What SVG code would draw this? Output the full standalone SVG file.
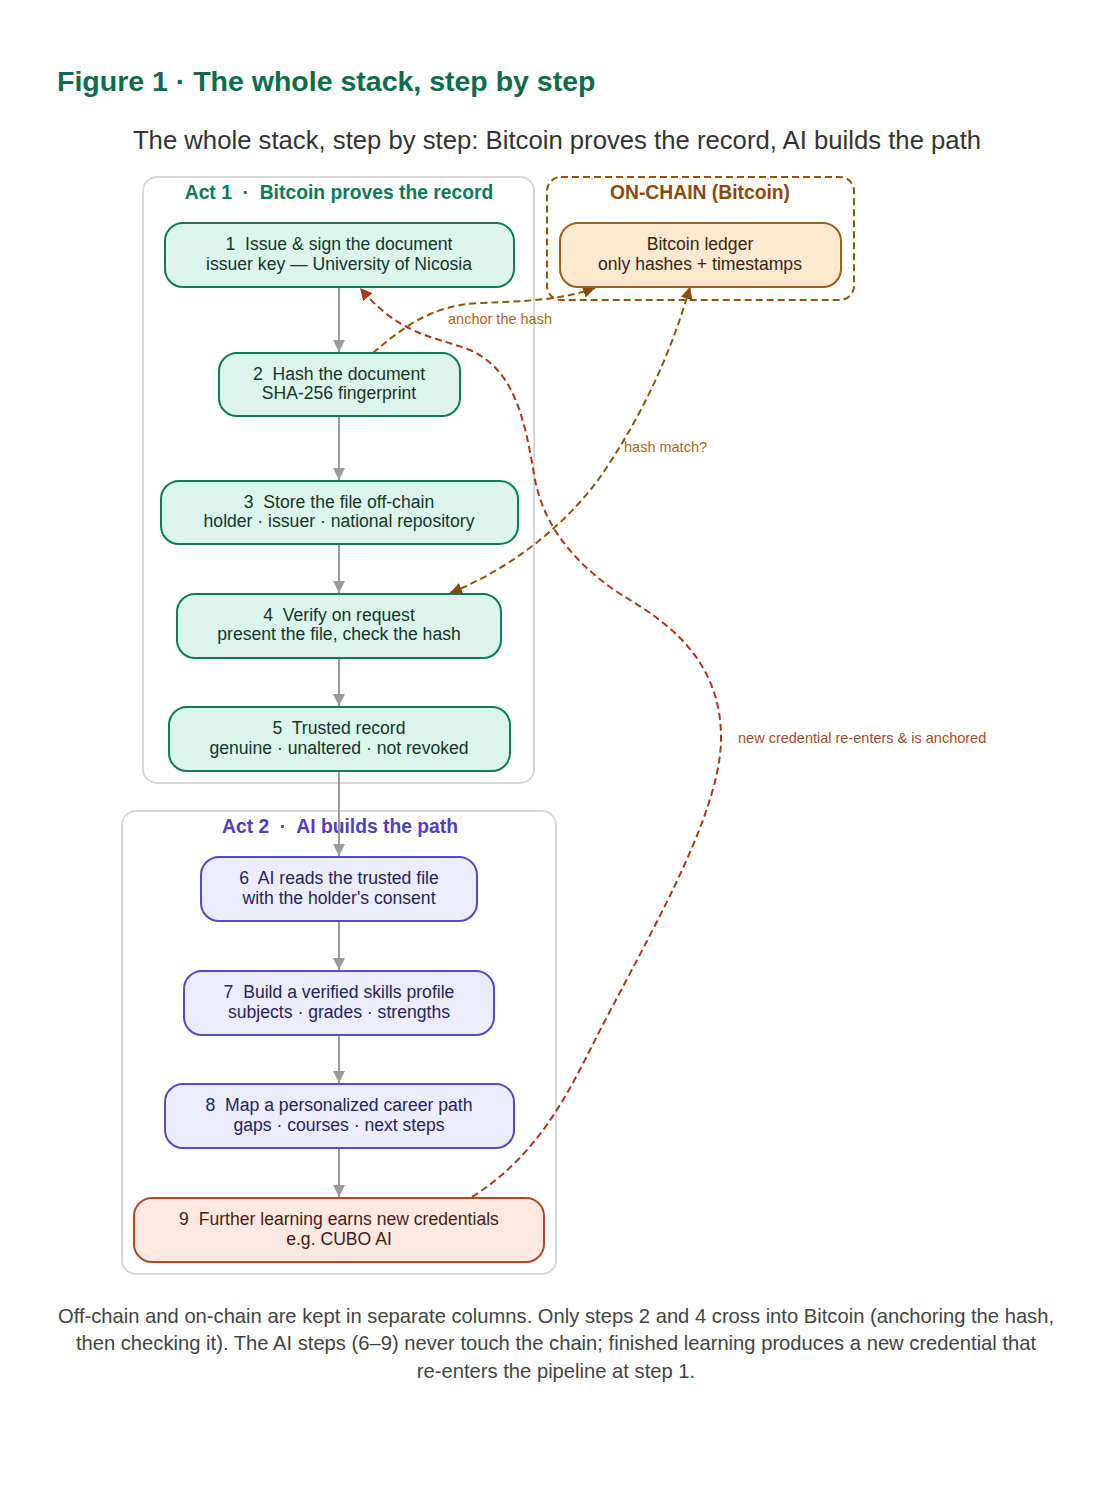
<svg xmlns="http://www.w3.org/2000/svg" width="1100" height="1497" viewBox="0 0 1100 1497">
<defs>
<style>
text{font-family:"Liberation Sans",Arial,sans-serif}
.title{font-size:28.5px;font-weight:bold;fill:#0d6b4e}
.sub{font-size:25.7px;fill:#333;text-anchor:middle}
.cap{font-size:20.2px;fill:#444;text-anchor:middle}
.cluster{fill:#fff;stroke:#d8d8d8;stroke-width:2}
.onchain{fill:none;stroke:#94540f;stroke-width:2;stroke-dasharray:7 4}
.clabel{font-size:19.3px;font-weight:bold;text-anchor:middle}
.g rect{fill:#dcf5ec;stroke:#0f7a58;stroke-width:2}
.g text{fill:#13352a;font-size:17.6px;text-anchor:middle}
.p rect{fill:#ececfd;stroke:#5549c8;stroke-width:2}
.p text{fill:#25245a;font-size:17.6px;text-anchor:middle}
.r rect{fill:#fde9e1;stroke:#b04a2a;stroke-width:2}
.r text{fill:#4a1c10;font-size:17.6px;text-anchor:middle}
.o rect{fill:#fde8d0;stroke:#a0601c;stroke-width:2}
.o text{fill:#3a2410;font-size:17.6px;text-anchor:middle}
.flow{stroke:#9a9a9a;stroke-width:2;fill:none;marker-end:url(#ag)}
.bro{stroke:#94540f;stroke-width:2;fill:none;stroke-dasharray:7 4}
.red{stroke:#a8391a;stroke-width:2;fill:none;stroke-dasharray:7 4}
.elab{font-size:14.5px}
</style>
<marker id="ag" viewBox="0 0 10 10" refX="10" refY="5" markerWidth="6" markerHeight="7" markerUnits="strokeWidth" orient="auto"><path d="M0,0 L10,5 L0,10 z" fill="#9a9a9a"/></marker>
<marker id="ab" viewBox="0 0 10 10" refX="10" refY="5" markerWidth="6" markerHeight="6" markerUnits="strokeWidth" orient="auto-start-reverse"><path d="M0,0 L10,5 L0,10 z" fill="#8a4a0a"/></marker>
<marker id="ar" viewBox="0 0 10 10" refX="10" refY="5" markerWidth="6" markerHeight="6" markerUnits="strokeWidth" orient="auto"><path d="M0,0 L10,5 L0,10 z" fill="#a8391a"/></marker>
</defs>
<rect width="1100" height="1497" fill="#fff"/>
<text class="title" x="57" y="91">Figure 1 · The whole stack, step by step</text>
<text class="sub" x="557" y="149">The whole stack, step by step: Bitcoin proves the record, AI builds the path</text>

<g id="act1">
<rect class="cluster" x="143" y="177" width="391" height="606" rx="14"/>
<text class="clabel" x="339" y="199" fill="#0d7a56" xml:space="preserve">Act 1  ·  Bitcoin proves the record</text>
</g>
<g id="onchain">
<rect class="onchain" x="547" y="177" width="307" height="123" rx="14"/>
<text class="clabel" x="700" y="199" fill="#8a4a0a">ON-CHAIN (Bitcoin)</text>
</g>
<g id="act2">
<rect class="cluster" x="122" y="811" width="434" height="463" rx="14"/>
<text class="clabel" x="340" y="833" fill="#4f3fc0" xml:space="preserve">Act 2  ·  AI builds the path</text>
</g>

<g id="connectors">
<path class="flow" d="M339,287 V352"/>
<path class="flow" d="M339,416 V480"/>
<path class="flow" d="M339,544 V593"/>
<path class="flow" d="M339,658 V706"/>
<path class="flow" d="M339,771 V856"/>
<path class="flow" d="M339,921 V970"/>
<path class="flow" d="M339,1035 V1083"/>
<path class="flow" d="M339,1148 V1197"/>
<path class="bro" d="M373,353 C400,330 430,305 480,303 C530,301 560,300 595,288" marker-end="url(#ab)"/>
<path class="bro" d="M690,287 C672,350 645,410 605,470 C575,515 520,565 450,593" marker-start="url(#ab)" marker-end="url(#ab)"/>
<path class="red" d="M472,1197 C530,1160 560,1110 590,1050 C640,950 720,820 721,740 C722,670 680,630 630,600 C580,570 545,530 535,480 C525,420 515,370 470,350 C430,335 400,335 360,288" marker-end="url(#ar)"/>
<text class="elab" x="448" y="324" fill="#a8682c">anchor the hash</text>
<text class="elab" x="624" y="452" fill="#a8682c">hash match?</text>
<text class="elab" x="738" y="743" fill="#b04a25">new credential re-enters &amp; is anchored</text>
</g>

<g id="n1" class="g"><rect x="165" y="223" width="349" height="64" rx="18"/><text x="339" y="250" xml:space="preserve">1  Issue &amp; sign the document</text><text x="339" y="270">issuer key — University of Nicosia</text></g>
<g id="n2" class="g"><rect x="219" y="353" width="241" height="63" rx="18"/><text x="339" y="380" xml:space="preserve">2  Hash the document</text><text x="339" y="399">SHA-256 fingerprint</text></g>
<g id="n3" class="g"><rect x="161" y="481" width="357" height="63" rx="18"/><text x="339" y="508" xml:space="preserve">3  Store the file off-chain</text><text x="339" y="527">holder · issuer · national repository</text></g>
<g id="n4" class="g"><rect x="177" y="594" width="324" height="64" rx="18"/><text x="339" y="621" xml:space="preserve">4  Verify on request</text><text x="339" y="640">present the file, check the hash</text></g>
<g id="n5" class="g"><rect x="169" y="707" width="341" height="64" rx="18"/><text x="339" y="734" xml:space="preserve">5  Trusted record</text><text x="339" y="754">genuine · unaltered · not revoked</text></g>
<g id="ledger" class="o"><rect x="560" y="223" width="281" height="64" rx="18"/><text x="700" y="250">Bitcoin ledger</text><text x="700" y="270">only hashes + timestamps</text></g>
<g id="n6" class="p"><rect x="201" y="857" width="276" height="64" rx="18"/><text x="339" y="884" xml:space="preserve">6  AI reads the trusted file</text><text x="339" y="904">with the holder's consent</text></g>
<g id="n7" class="p"><rect x="184" y="971" width="310" height="64" rx="18"/><text x="339" y="998" xml:space="preserve">7  Build a verified skills profile</text><text x="339" y="1018">subjects · grades · strengths</text></g>
<g id="n8" class="p"><rect x="165" y="1084" width="349" height="64" rx="18"/><text x="339" y="1111" xml:space="preserve">8  Map a personalized career path</text><text x="339" y="1131">gaps · courses · next steps</text></g>
<g id="n9" class="r"><rect x="134" y="1198" width="410" height="64" rx="18"/><text x="339" y="1225" xml:space="preserve">9  Further learning earns new credentials</text><text x="339" y="1245">e.g. CUBO AI</text></g>

<text class="cap" x="556" y="1323">Off-chain and on-chain are kept in separate columns. Only steps 2 and 4 cross into Bitcoin (anchoring the hash,</text>
<text class="cap" x="556" y="1350">then checking it). The AI steps (6–9) never touch the chain; finished learning produces a new credential that</text>
<text class="cap" x="556" y="1378">re-enters the pipeline at step 1.</text>
</svg>
